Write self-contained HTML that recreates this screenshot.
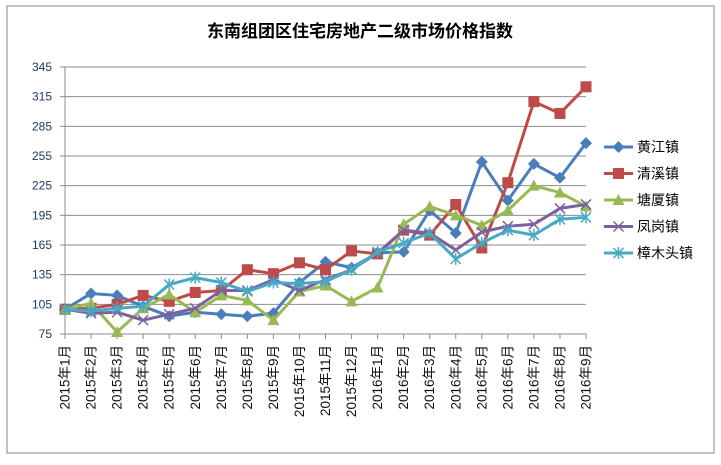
<!DOCTYPE html>
<html><head><meta charset="utf-8"><style>
body{margin:0;background:#fff;}
svg text{font-family:"Liberation Sans","Noto Sans CJK SC",sans-serif;}
</style></head><body>
<svg id="chart" width="721" height="460">
<rect x="7" y="6" width="707" height="447" fill="#fff" stroke="#888" stroke-width="1"/>
<text x="360" y="37" text-anchor="middle" font-size="17" font-weight="bold" fill="#000" style='font-family:"Noto Sans CJK SC",sans-serif'>东南组团区住宅房地产二级市场价格指数</text>
<g id="grid"></g><g id="axes"></g><g id="series"></g><g id="legend"></g>
</svg>
<script>
const categories=["2015年1月","2015年2月","2015年3月","2015年4月","2015年5月","2015年6月","2015年7月","2015年8月","2015年9月","2015年10月","2015年11月","2015年12月","2016年1月","2016年2月","2016年3月","2016年4月","2016年5月","2016年6月","2016年7月","2016年8月","2016年9月"];
const seriesNames=["黄江镇","清溪镇","塘厦镇","凤岗镇","樟木头镇"];
const huangjiang=[100,116,114,103,93,97,95,93,96,127,148,142,157,158,200,177,249,210,247,233,268];
const qingxi=[100,101,105,114,108,117,119,140,136,147,140,159,156,180,175,206,162,228,310,298,325];
const tangxia=[100,106,77,101,115,97,114,109,89,118,124,108,122,186,204,195,185,200,225,218,204];
const fenggang=[100,96,97,89,95,101,119,119,130,119,130,140,157,180,177,160,178,184,186,202,206];
const zhangmutou=[100,98,101,103,125,132,127,118,127,126,128,140,158,167,177,151,167,180,175,191,193];
const yTicks=[75,105,135,165,195,225,255,285,315,345];
const colors=["#4a7ebb","#be4b48","#98b954","#7d60a0","#46aac5"];
const markers=["diamond","square","triangle","x","star"];
const NS="http://www.w3.org/2000/svg";
const X0=65,X1=586,Y0=334,Y1=67,YMIN=75,YMAX=345;
function xs(i){return X0+(X1-X0)*i/(categories.length-1);}
function ys(v){return Y0-(v-YMIN)/(YMAX-YMIN)*(Y0-Y1);}
function mk(tag,attrs,parent){const e=document.createElementNS(NS,tag);for(const k in attrs)e.setAttribute(k,attrs[k]);parent.appendChild(e);return e;}
const grid=document.getElementById('grid'),axes=document.getElementById('axes'),ser=document.getElementById('series'),leg=document.getElementById('legend');
yTicks.forEach(t=>{
 const y=ys(t);
 if(t!==YMIN){const l=mk('line',{x1:X0,x2:X1,y1:y,y2:y,stroke:'#8c8c8c','stroke-width':1},grid);
 
 }
 const tk=mk('line',{x1:X0-5,x2:X0,y1:y,y2:y,stroke:'#8c8c8c'},axes);
 
 
 const tx=mk('text',{x:X0-13,y:y+4,'text-anchor':'end','font-size':12,fill:'#1f3864'},axes);
 tx.textContent=t;
 
 
});
const ya=mk('line',{x1:X0,x2:X0,y1:Y1,y2:Y0,stroke:'#8c8c8c'},axes);


const xa=mk('line',{x1:X0,x2:X1,y1:Y0,y2:Y0,stroke:'#8c8c8c'},axes);


categories.forEach((c,i)=>{
 const x=xs(i);
 const tk=mk('line',{x1:x,x2:x,y1:Y0,y2:Y0+5,stroke:'#8c8c8c'},axes);
 
 
 const tx=mk('text',{x:0,y:0,'text-anchor':'end','font-size':13.5,fill:'#111',transform:`translate(${x+4.5},${Y0+11}) rotate(-90)`},axes);
 tx.textContent=c;
 
 
});
function marker(type,x,y,col,g){
 if(type==="diamond")mk('polygon',{points:`${x},${y-6} ${x+6},${y} ${x},${y+6} ${x-6},${y}`,fill:col},g);
 else if(type==="square")mk('rect',{x:x-5.5,y:y-5.5,width:11,height:11,fill:col},g);
 else if(type==="triangle")mk('polygon',{points:`${x},${y-6} ${x+6},${y+5} ${x-6},${y+5}`,fill:col},g);
 else if(type==="x"){mk('path',{d:`M${x-5},${y-5}L${x+5},${y+5}M${x+5},${y-5}L${x-5},${y+5}`,stroke:col,'stroke-width':1.5},g);}
 else {mk('path',{d:`M${x-5},${y-5}L${x+5},${y+5}M${x+5},${y-5}L${x-5},${y+5}M${x},${y-6}L${x},${y+6}`,stroke:col,'stroke-width':1.5},g);}
}
const data=[huangjiang,qingxi,tangxia,fenggang,zhangmutou];
data.forEach((vals,s)=>{
 const g=mk('g',{},ser);
 
 
 const pts=vals.map((v,i)=>xs(i)+','+ys(v)).join(' ');
 mk('polyline',{points:pts,fill:'none',stroke:colors[s],'stroke-width':3,'stroke-linejoin':'round'},g);
 vals.forEach((v,i)=>marker(markers[s],xs(i),ys(v),colors[s],g));
 const ly=147+s*26.5;
 const lg=mk('g',{},leg);
 
 
 mk('line',{x1:604,x2:633,y1:ly,y2:ly,stroke:colors[s],'stroke-width':3},lg);
 marker(markers[s],618.5,ly,colors[s],lg);
 const t=mk('text',{x:637,y:ly+5,'font-size':14,fill:'#000'},lg);
 t.textContent=seriesNames[s];
});
</script>
</body></html>
